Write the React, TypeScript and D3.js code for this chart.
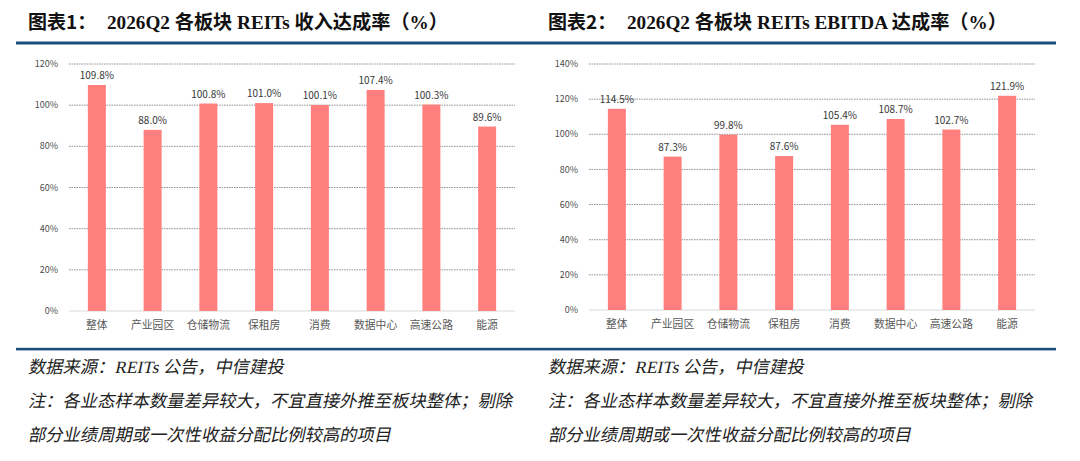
import * as d3 from 'd3';

const categories = ['整体', '产业园区', '仓储物流', '保租房', '消费', '数据中心', '高速公路', '能源'];
const revenueRate = [109.8, 88.0, 100.8, 101.0, 100.1, 107.4, 100.3, 89.6];
const ebitdaRate = [114.5, 87.3, 99.8, 87.6, 105.4, 108.7, 102.7, 121.9];
const revenueTicks = [0, 20, 40, 60, 80, 100, 120];
const ebitdaTicks = [0, 20, 40, 60, 80, 100, 120, 140];

const titles = [
  ['图表1：', '2026Q2 各板块 REITs 收入达成率（%）'],
  ['图表2：', '2026Q2 各板块 REITs EBITDA 达成率（%）'],
];
const notes = [
  '数据来源：REITs 公告，中信建投',
  '注：各业态样本数量差异较大，不宜直接外推至板块整体；剔除',
  '部分业绩周期或一次性收益分配比例较高的项目',
];

const BAR = '#ff7f7f';
const RULE = '#1b4f7c';
const SANS = "'Noto Sans CJK SC', 'Noto Sans', sans-serif";
const SERIF = "'Liberation Serif', 'Noto Sans CJK SC', serif";

interface PanelProps {
  left: number;
  values: number[];
  ticks: number[];
  yBottom: number;
  title: string[];
}

const Panel = ({ left, values, ticks, yBottom, title }: PanelProps) => {
  const x = d3.scaleBand<string>()
    .domain(categories)
    .range([left + 69, left + 515])
    .paddingInner(0.677)
    .paddingOuter(0.3385);
  const y = d3.scaleLinear()
    .domain([0, d3.max(ticks) as number])
    .range([yBottom, 64]);

  return (
    <g>
      <text x={left + 28} y={29} fontFamily={SANS} fontWeight="bold" fontSize={19} fill="#111">
        {title[0]}
      </text>
      <text x={left + 107} y={29} fontFamily={SERIF} fontWeight="bold" fontSize={19.2} fill="#111">
        {title[1]}
      </text>

      {/* gridlines + y labels */}
      {ticks.map(t => (
        <g key={t}>
          {t > 0 && (
            <line x1={left + 69} x2={left + 515} y1={y(t)} y2={y(t)}
              stroke="#7a7a7a" strokeWidth={0.8} strokeDasharray="1.6 0.9" />
          )}
          <text x={left + 58} y={y(t)} dy="0.35em" textAnchor="end"
            fontFamily={SANS} fontSize={9} fill="#4d4d4d">{`${t}%`}</text>
        </g>
      ))}
      <line x1={left + 69} x2={left + 515} y1={y(0)} y2={y(0)} stroke="#d9d9d9" strokeWidth={1} />

      {values.map((v, i) => {
        const c = categories[i];
        const bx = x(c) as number;
        return (
          <g key={c}>
            <rect x={bx} y={y(v)} width={x.bandwidth()} height={y(0) - y(v)} fill={BAR} />
            <text x={bx + x.bandwidth() / 2} y={y(v) - 6} textAnchor="middle"
              fontFamily={SANS} fontSize={10} fill="#383838">{`${v.toFixed(1)}%`}</text>
            <text x={bx + x.bandwidth() / 2} y={yBottom + 14.5} dy="0.35em" textAnchor="middle"
              fontFamily={SANS} fontSize={10.8} fill="#595959">{c}</text>
          </g>
        );
      })}

      {/* footnotes, slanted like the source's italic */}
      {notes.map((n, i) => (
        <text key={i} transform={`translate(${left + 28},${373 + i * 34}) skewX(-12)`}
          fontFamily={SERIF} fontSize={17.3} fill="#222">{n}</text>
      ))}
    </g>
  );
};

export default function App() {
  return (
    <svg width={1080} height={461} style={{ position: 'absolute', left: 0, top: 0, background: '#fff' }}>
      <rect width={1080} height={461} fill="#fff" />
      <rect x={16} y={41.5} width={1040} height={3} fill={RULE} />
      <rect x={16} y={347.8} width={1040} height={2.6} fill={RULE} />
      <Panel left={0} values={revenueRate} ticks={revenueTicks} yBottom={311} title={titles[0]} />
      <Panel left={520} values={ebitdaRate} ticks={ebitdaTicks} yBottom={310} title={titles[1]} />
    </svg>
  );
}
